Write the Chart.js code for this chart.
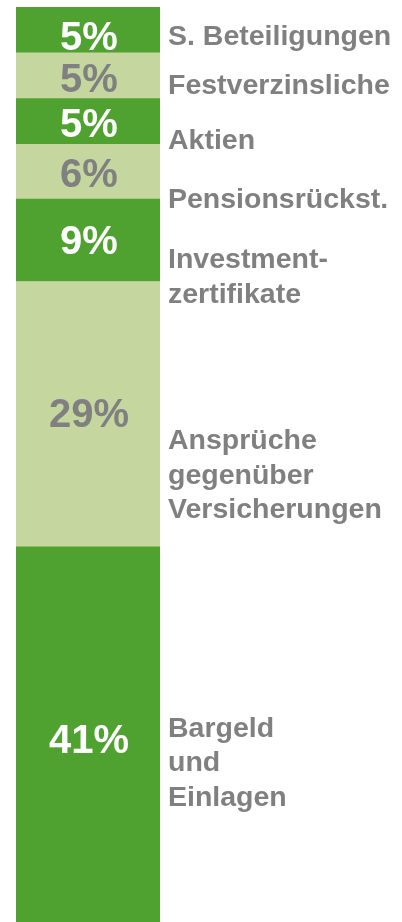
<!DOCTYPE html>
<html>
<head>
<meta charset="utf-8">
<script src="https://cdn.jsdelivr.net/npm/chart.js@4/dist/chart.umd.min.js"></script>
<style>
  html, body { margin: 0; padding: 0; background: #ffffff; }
  #wrap { width: 402px; height: 922px; }
</style>
</head>
<body>
<div id="wrap"><canvas id="c" width="402" height="922"></canvas></div>
<script>
// Data (bottom to top of the stacked bar)
const categories = ["Bargeld\nund\nEinlagen", "Ansprüche\ngegenüber\nVersicherungen", "Investment-\nzertifikate", "Pensionsrückst.", "Aktien", "Festverzinsliche", "S. Beteiligungen"];
const shares = [41, 29, 9, 6, 5, 5, 5];
const valueLabels = ["41%", "29%", "9%", "6%", "5%", "5%", "5%"];

// Styling / layout
const DARK = "#4fa22f";
const LIGHT = "#c5d69f";
const GREY = "#808080";
const segColors = [DARK, LIGHT, DARK, LIGHT, DARK, LIGHT, DARK];
const valueColors = ["#ffffff", GREY, "#ffffff", GREY, "#ffffff", GREY, "#ffffff"];
const valueBaselineOffsets = [18.5, 13, 14, 15.5, 16, 16, 20];
const nameBaselineOffsets = [2.5, 35, 28, 36.5, 28, 18, 15];
const nameLineHeight = 34.5;

const labelPlugin = {
  id: "segLabels",
  afterDatasetsDraw(chart) {
    const ctx = chart.ctx;
    ctx.save();
    chart.data.datasets.forEach((ds, i) => {
      const el = chart.getDatasetMeta(i).data[0];
      if (!el) return;
      const cy = (el.y + el.base) / 2;
      // value label inside bar
      ctx.font = "bold 40px 'Liberation Sans', Arial, sans-serif";
      ctx.textAlign = "center";
      ctx.textBaseline = "alphabetic";
      ctx.fillStyle = valueColors[i];
      ctx.fillText(valueLabels[i], el.x + 1, cy + valueBaselineOffsets[i]);
      // category name to the right
      ctx.font = "bold 28.5px 'Liberation Sans', Arial, sans-serif";
      ctx.textAlign = "left";
      ctx.fillStyle = GREY;
      const lines = categories[i].split("\n");
      lines.forEach((ln, k) => {
        ctx.fillText(ln, chart.chartArea.right + 8, cy + nameBaselineOffsets[i] + k * nameLineHeight);
      });
    });
    ctx.restore();
  }
};

new Chart(document.getElementById("c"), {
  type: "bar",
  data: {
    labels: [""],
    datasets: shares.map((v, i) => ({
      label: categories[i].replace(/\n/g, " "),
      data: [v],
      backgroundColor: segColors[i],
      borderWidth: 0,
      barPercentage: 1,
      categoryPercentage: 1
    }))
  },
  options: {
    responsive: false,
    animation: false,
    layout: { padding: { left: 16, right: 242, top: 7, bottom: 0 } },
    scales: {
      x: { stacked: true, display: false },
      y: { stacked: true, display: false, min: 0, max: 100 }
    },
    plugins: {
      legend: { display: false },
      tooltip: { enabled: false }
    }
  },
  plugins: [labelPlugin]
});
</script>
</body>
</html>
